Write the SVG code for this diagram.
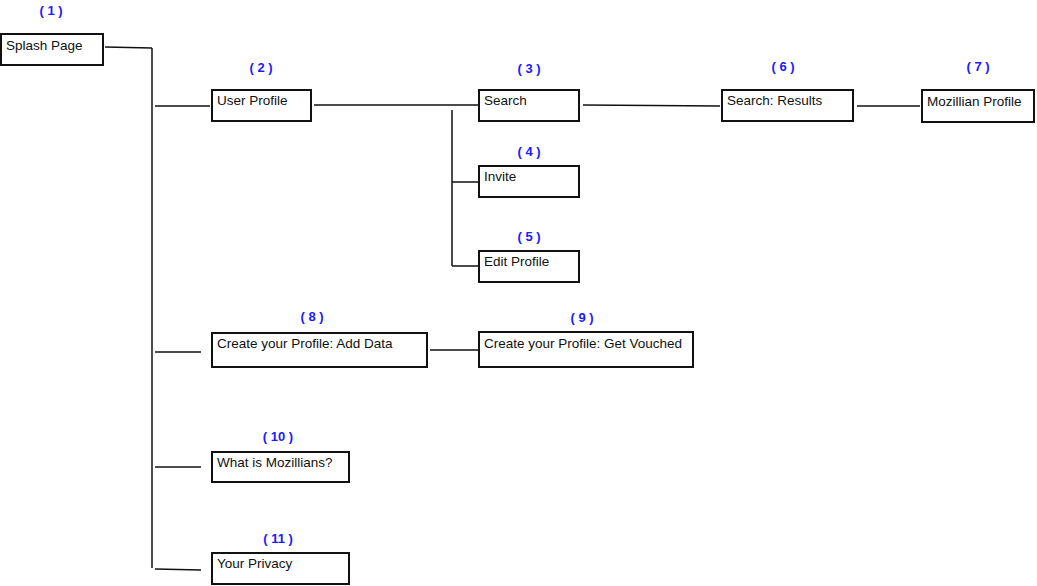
<svg xmlns="http://www.w3.org/2000/svg" width="1037" height="586" viewBox="0 0 1037 586">
<style>
.box{fill:#fff;stroke:#111;stroke-width:2}
.t{font-family:"Liberation Sans",Arial,sans-serif;font-size:13.5px;fill:#111}
.n{font-family:"Liberation Sans",Arial,sans-serif;font-size:13px;font-weight:bold;fill:#1a1aff;text-anchor:middle}
.c{fill:none;stroke:#111;stroke-width:1.5}
</style>
<rect width="1037" height="586" fill="#fff"/>
<g id="connectors">
<path class="c" d="M105 47 L152 48"/>
<path class="c" d="M152 48 L152 568"/>
<path class="c" d="M155 106 L210 106"/>
<path class="c" d="M155 352 L201 352"/>
<path class="c" d="M155 467 L201 467"/>
<path class="c" d="M155 569 L201 570"/>
<path class="c" d="M314 105 L478 105"/>
<path class="c" d="M452 110 L452 266"/>
<path class="c" d="M452 182 L478 182"/>
<path class="c" d="M452 266 L478 266"/>
<path class="c" d="M583 105 L720 106"/>
<path class="c" d="M857 106 L920 106"/>
<path class="c" d="M430 350 L478 350"/>
</g>
<g id="n1"><text class="n" x="51" y="15">( 1 )</text><rect class="box" x="1" y="34" width="102" height="31"/><text class="t" x="6" y="50">Splash Page</text></g>
<g id="n2"><text class="n" x="261" y="72">( 2 )</text><rect class="box" x="212" y="90" width="99" height="31"/><text class="t" x="217" y="105">User Profile</text></g>
<g id="n3"><text class="n" x="529" y="73">( 3 )</text><rect class="box" x="479" y="90" width="100" height="31"/><text class="t" x="484" y="105">Search</text></g>
<g id="n4"><text class="n" x="529" y="156">( 4 )</text><rect class="box" x="479" y="166" width="100" height="31"/><text class="t" x="484" y="181">Invite</text></g>
<g id="n5"><text class="n" x="529" y="241">( 5 )</text><rect class="box" x="479" y="251" width="100" height="31"/><text class="t" x="484" y="266">Edit Profile</text></g>
<g id="n6"><text class="n" x="783" y="71">( 6 )</text><rect class="box" x="722" y="90" width="131" height="31"/><text class="t" x="727" y="105">Search: Results</text></g>
<g id="n7"><text class="n" x="978" y="71">( 7 )</text><rect class="box" x="922" y="90" width="112" height="32"/><text class="t" x="927" y="106">Mozillian Profile</text></g>
<g id="n8"><text class="n" x="312" y="321">( 8 )</text><rect class="box" x="212" y="333" width="215" height="34"/><text class="t" x="217" y="348">Create your Profile: Add Data</text></g>
<g id="n9"><text class="n" x="582" y="322">( 9 )</text><rect class="box" x="479" y="332" width="214" height="35"/><text class="t" x="484" y="348">Create your Profile: Get Vouched</text></g>
<g id="n10"><text class="n" x="278" y="441">( 10 )</text><rect class="box" x="212" y="452" width="137" height="30"/><text class="t" x="217" y="467">What is Mozillians?</text></g>
<g id="n11"><text class="n" x="278" y="543">( 11 )</text><rect class="box" x="212" y="553" width="137" height="31"/><text class="t" x="217" y="568">Your Privacy</text></g>
</svg>
